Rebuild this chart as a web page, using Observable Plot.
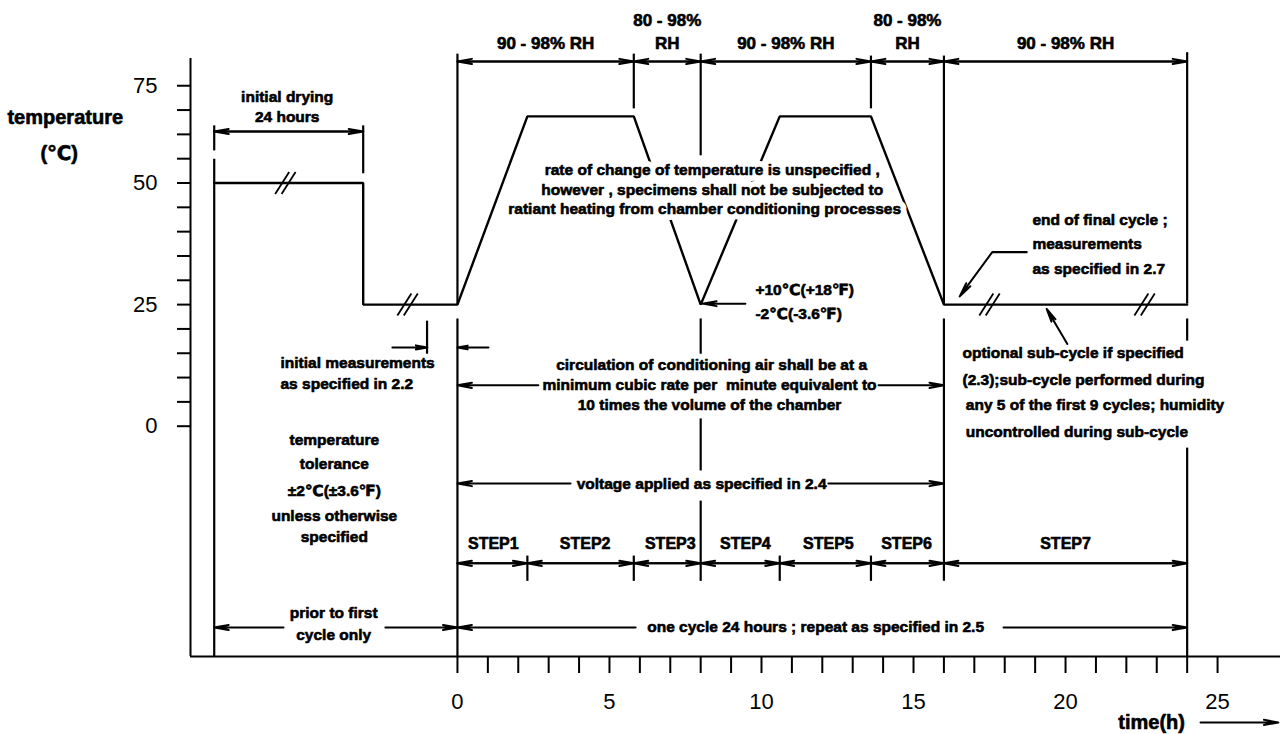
<!DOCTYPE html>
<html>
<head>
<meta charset="utf-8">
<script src="https://cdn.jsdelivr.net/npm/d3@7"></script>
<script src="https://cdn.jsdelivr.net/npm/@observablehq/plot@0.6"></script>
<style>
  body { margin: 0; background: #fff; }
  #chart svg g[aria-label^="x-axis"] line, #chart svg g[aria-label^="x-axis"] path,
  #chart svg g[aria-label^="y-axis"] line, #chart svg g[aria-label^="y-axis"] path { stroke-width: 2px; }
</style>
</head>
<body>
<div id="chart"></div>
<script>
// ---- frame (hours / °C in drawing units) ----
const xMin = -8.78, xMax = 27.07, yMin = -47.35, yMax = 75.6;

// ---- axes ----
const xTicks = [0,1,2,3,4,5,6,7,8,9,10,11,12,13,14,15,16,17,18,19,20,21,22,23,24,25];
const xTickLabels = [0,5,10,15,20,25];
const yTicks = [0,5,10,15,20,25,30,35,40,45,50,55,60,65,70];
const yTickAt = [0,25,50,70];
const yTickText = ["0","25","50","75"];

// ---- temperature profile ----
const profileHour = [-8, -3.1, -3.1, 0, 2.3, 5.8, 8, 10.6, 13.6, 16, 24];
const profileTemp = [50, 50, 25, 25, 63.7, 63.7, 25, 63.7, 63.7, 25, 25];

// ---- vertical guide lines: [hour, from, to] ----
const guideLines = [
  [-8, 55.0, yMin], [-8, 61.85, 56.7], [-3.1, 61.85, 52.0], [-1.0, 21.7, 14.9],
  [0, 76.6, 25], [0, 22.15, yMin],
  [5.8, 76.6, 65.35], [13.6, 76.2, 65.35],
  [8, 76.6, 55.7], [8, 22.15, 14.9], [8, 1.6, -9.1], [8, -15.3, -31.8],
  [16, 76.2, 25.2], [16, 22.15, -31.8],
  [24, 76.9, 25.2], [24, 22.15, 17.6], [24, -4.4, yMin],
  [2.3, -26.6, -31.8], [5.8, -26.6, -31.8], [10.6, -26.6, -31.8], [13.6, -26.6, -31.8]
];
// other plain segments: [x1, y1, x2, y2]
const leaderLines = [[18.75, 35.8, 17.59, 35.8]];

// ---- dimension lines (arrow at both ends): [from, to, level] ----
const rhLevel = 75.0;
const rhBounds = [[0, 5.8], [5.8, 8], [8, 13.6], [13.6, 16], [16, 24]];
const dryingDim = [[-8, -3.1, 60.6]];
const stepLevel = -28.2;
const stepBounds = [[0, 2.3], [2.3, 5.8], [5.8, 8], [8, 10.6], [10.6, 13.6], [13.6, 16], [16, 24]];

// ---- single arrows: [x1, y1, x2(tip), y2(tip)] ----
const singleArrows = [
  [-2.14, 16.2, -0.99, 16.2], [1.02, 16.2, 0, 16.2],
  [2.66, 8.4, 0, 8.4], [13.85, 8.4, 16, 8.4],
  [3.72, -11.8, 0, -11.8], [12.2, -11.8, 16, -11.8],
  [-5.72, -41.4, -8, -41.4], [-2.37, -41.4, 0, -41.4],
  [5.86, -41.4, 0, -41.4], [17.96, -41.4, 24, -41.4],
  [9.47, 25.2, 8.06, 25.2],
  [17.59, 35.8, 16.52, 26.7],
  [20.06, 16.9, 19.38, 24.1],
  [24.44, -60.9, 27.0, -60.9]
];

// ---- axis break marks: [hour, temp] ----
const breakMarks = [[-5.66, 50], [-1.64, 25], [17.5, 25], [22.6, 25]];

// ---- labels ----
const rhLabels = [
  ["90 - 98% RH", 2.9, 78.65], ["80 - 98%", 6.9, 83.4], ["RH", 6.9, 78.65],
  ["90 - 98% RH", 10.8, 78.65], ["80 - 98%", 14.8, 83.4], ["RH", 14.8, 78.65],
  ["90 - 98% RH", 20, 78.65]
];
const stepLabels = [
  ["STEP1", 1.18, -24.1], ["STEP2", 4.2, -24.1], ["STEP3", 7.0, -24.1], ["STEP4", 9.47, -24.1],
  ["STEP5", 12.2, -24.1], ["STEP6", 14.77, -24.1], ["STEP7", 20.0, -24.1]
];
const centerNotes = [
  ["initial drying", -5.6, 67.6], ["24 hours", -5.6, 63.5],
  ["circulation of conditioning air shall be at a", 8.36, 12.5],
  ["minimum cubic rate per  minute equivalent to", 8.29, 8.4],
  ["10 times the volume of the chamber", 8.29, 4.4],
  ["voltage applied as specified in 2.4", 8.03, -11.8],
  ["temperature", -4.05, -2.94], ["tolerance", -4.05, -7.73], ["±2℃(±3.6℉)", -4.05, -13.3],
  ["unless otherwise", -4.05, -18.4], ["specified", -4.05, -22.7],
  ["prior to first", -4.07, -38.5], ["cycle only", -4.07, -43.0],
  ["one cycle 24 hours ; repeat as specified in 2.5", 11.78, -41.2]
];
const rateNotes = [
  ["rate of change of temperature is unspecified ,", 8.38, 52.6],
  ["however , specimens shall not be subjected to", 8.38, 48.6],
  ["ratiant heating from chamber conditioning processes", 8.13, 44.7]
];
const startNotes = [
  ["+10℃(+18℉)", 9.8, 27.9], ["-2℃(-3.6℉)", 9.8, 23.1],
  ["initial measurements", -5.82, 12.9], ["as specified in 2.2", -5.82, 8.6],
  ["end of final cycle ;", 18.91, 42.3], ["measurements", 18.91, 37.5], ["as specified in 2.7", 18.91, 32.4],
  ["optional sub-cycle if specified", 16.61, 14.95], ["(2.3);sub-cycle performed during", 16.61, 9.4],
  ["any 5 of the first 9 cycles; humidity", 16.72, 4.3], ["uncontrolled during sub-cycle", 16.72, -1.1]
];
const axisTitles = [["temperature", -12.9, 63.5], ["(℃)", -13.1, 56.1], ["time(h)", 22.83, -60.9]];

// ---- build tables ----
const W = 1283, H = 734, mL = 190, mR = 3, mT = 58, mB = 78;
const pxPerHour = (W - mL - mR) / (xMax - xMin);
const pxPerDeg = (H - mT - mB) / (yMax - yMin);

const profile = profileHour.map((h, i) => ({h, t: profileTemp[i]}));
const segs = [
  ...guideLines.map(([x, a, b]) => ({x1: x, y1: a, x2: x, y2: b})),
  ...leaderLines.map(([x1, y1, x2, y2]) => ({x1, y1, x2, y2}))
];
const arrows = [];
const addDim = (a, b, y) => { arrows.push({x1: a, y1: y, x2: b, y2: y}, {x1: b, y1: y, x2: a, y2: y}); };
rhBounds.forEach(([a, b]) => addDim(a, b, rhLevel));
dryingDim.forEach(([a, b, y]) => addDim(a, b, y));
stepBounds.forEach(([a, b]) => addDim(a, b, stepLevel));
singleArrows.forEach(([x1, y1, x2, y2]) => arrows.push({x1, y1, x2, y2}));

// break marks: two parallel slashes each
const slashes = [];
const hx = 7 / pxPerHour, hy = 11 / pxPerDeg, off = 3.2 / pxPerHour;
breakMarks.forEach(([bx, by]) => {
  [-off, off].forEach(o => slashes.push({x1: bx + o - hx, y1: by - hy, x2: bx + o + hx, y2: by + hy}));
});

const toText = arr => arr.map(([text, x, y]) => ({text, x, y}));
const FONT = "Liberation Sans, Arial, DejaVu Sans, sans-serif";
const noteStyle = {x: "x", y: "y", text: "text", fontFamily: FONT, fontWeight: "bold",
  fill: "black", stroke: "black", strokeWidth: 0.6};

const chart = Plot.plot({
  width: W, height: H,
  marginLeft: mL, marginRight: mR, marginTop: mT, marginBottom: mB,
  style: {background: "white", color: "black", fontFamily: FONT, fontSize: "22px", overflow: "visible"},
  x: {domain: [xMin, xMax], ticks: xTicks, tickFormat: d => xTickLabels.includes(d) ? String(d) : "",
      tickSize: 17, tickPadding: 20, label: null},
  y: {domain: [yMin, yMax], ticks: yTicks,
      tickFormat: d => { const i = yTickAt.indexOf(d); return i >= 0 ? yTickText[i] : ""; },
      tickSize: 13, tickPadding: 20, label: null},
  marks: [
    Plot.ruleY([yMin], {x1: xMin, x2: xMax, stroke: "black", strokeWidth: 2}),
    Plot.ruleX([xMin], {y1: yMin, y2: yMax, stroke: "black", strokeWidth: 2}),
    Plot.link(segs, {x1: "x1", y1: "y1", x2: "x2", y2: "y2", stroke: "black", strokeWidth: 2.2}),
    Plot.line(profile, {x: "h", y: "t", stroke: "black", strokeWidth: 2.4, strokeLinejoin: "miter"}),
    Plot.link(slashes, {x1: "x1", y1: "y1", x2: "x2", y2: "y2", stroke: "black", strokeWidth: 1.8}),
    Plot.arrow(arrows, {x1: "x1", y1: "y1", x2: "x2", y2: "y2", stroke: "black", strokeWidth: 2,
      headAngle: 20, headLength: 11}),
    Plot.text(toText(rateNotes), {...noteStyle, fontSize: 15.5, stroke: "white", strokeWidth: 12, fill: "white"}),
    Plot.text(toText(rateNotes), {...noteStyle, fontSize: 15.5}),
    Plot.text(toText(rhLabels), {...noteStyle, fontSize: 17}),
    Plot.text(toText(stepLabels), {...noteStyle, fontSize: 16}),
    Plot.text(toText(centerNotes), {...noteStyle, fontSize: 15.5}),
    Plot.text(toText(startNotes), {...noteStyle, fontSize: 15.5, textAnchor: "start"}),
    Plot.text(toText(axisTitles), {...noteStyle, fontSize: 20})
  ]
});
document.getElementById("chart").appendChild(chart);
</script>
</body>
</html>
